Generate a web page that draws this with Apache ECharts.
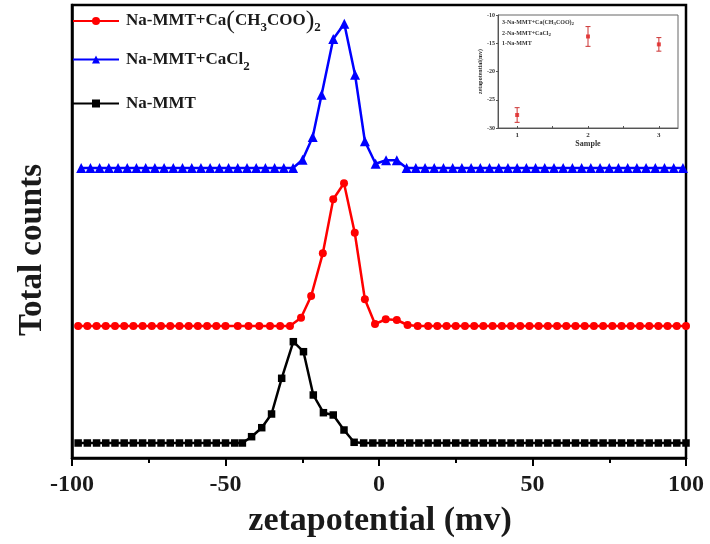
<!DOCTYPE html>
<html>
<head>
<meta charset="utf-8">
<script src="https://cdn.jsdelivr.net/npm/echarts@6/dist/echarts.min.js"></script>
<style>
  html, body { margin: 0; padding: 0; background: #fff; }
  #chart { width: 710px; height: 544px; }
</style>
</head>
<body>
<div id="chart"></div>
<script>
// Zeta potential distributions (x in mV, counts in arbitrary units above each curve's baseline)
const xMMT = [-98,-95,-92,-89,-86,-83,-80,-77,-74,-71,-68,-65,-62,-59,-56,-53,-50,-47,-44.5,
  -41.5,-38.2,-35,-31.7,-27.9,-24.6,-21.4,-18.1,-14.9,-11.4,-8.1,
  -5,-2,1,4,7,10,13,16,19,22,25,28,31,34,37,40,43,46,49,52,55,58,61,64,67,70,73,76,79,82,85,88,91,94,97,100];
const countsMMT = [0,0,0,0,0,0,0,0,0,0,0,0,0,0,0,0,0,0,0,
  6.3,15.3,29,64.7,101.3,91.3,48,30.3,28,13,0.7,
  0,0,0,0,0,0,0,0,0,0,0,0,0,0,0,0,0,0,0,0,0,0,0,0,0,0,0,0,0,0,0,0,0,0,0,0];

const xCaAc = [-98,-95,-92,-89,-86,-83,-80,-77,-74,-71,-68,-65,-62,-59,-56,-53,-50,
  -46,-42.5,-39,-35.5,-32.2,-29,
  -25.4,-22.1,-18.3,-14.9,-11.4,-7.9,-4.6,-1.3,2.2,5.8,9.3,
  12.6,16,19,22,25,28,31,34,37,40,43,46,49,52,55,58,61,64,67,70,73,76,79,82,85,88,91,94,97,100];
const countsCaAc = [0,0,0,0,0,0,0,0,0,0,0,0,0,0,0,0,0,
  0,0,0,0,0,0,
  8.3,30,72.7,126.7,142.7,93.3,26.7,2,6.7,6,1,
  0,0,0,0,0,0,0,0,0,0,0,0,0,0,0,0,0,0,0,0,0,0,0,0,0,0,0,0,0,0];

const xCaCl2 = [-97,-94,-91,-88,-85,-82,-79,-76,-73,-70,-67,-64,-61,-58,-55,-52,-49,-46,-43,-40,-37,-34,-31,-28,
  -24.9,-21.6,-18.7,-14.9,-11.3,-7.8,-4.6,-1.1,2.3,5.8,9,
  12,15,18,21,24,27,30,33,36,39,42,45,48,51,54,57,60,63,66,69,72,75,78,81,84,87,90,93,96,99];
const countsCaCl2 = [0,0,0,0,0,0,0,0,0,0,0,0,0,0,0,0,0,0,0,0,0,0,0,0,
  8.3,31,73.3,129,144.3,93.3,26.7,4.3,7.7,7.7,0,
  0,0,0,0,0,0,0,0,0,0,0,0,0,0,0,0,0,0,0,0,0,0,0,0,0,0,0,0,0,0];

const xTickValues = [-100, -50, 0, 50, 100];

// Inset: mean zeta potential per sample with error
const insetSamples = [1, 2, 3];
const insetZeta = [-27.7, -13.8, -15.2];
const insetErr = [1.3, 1.75, 1.2];
const insetLegendLines = ['3-Na-MMT+Ca(CH{s|3}COO){s|2}', '2-Na-MMT+CaCl{s|2}', '1-Na-MMT'];

// Vertical offsets that stack the three curves
const BASE_MMT = 15, BASE_CAAC = 132, BASE_CACL2 = 290;

const SERIF = '"Liberation Serif", "DejaVu Serif", serif';
const TXT = '#1a1a1a';

const pairs = (xs, ys, base) => xs.map((x, i) => [x, ys[i] + base]);

const legendRich = {
  n: { fontFamily: SERIF, fontWeight: 'bold', fontSize: 17, color: TXT },
  p: { fontFamily: SERIF, fontWeight: 'normal', fontSize: 26, color: TXT },
  s: { fontFamily: SERIF, fontWeight: 'bold', fontSize: 13, color: TXT, padding: [14, 0, 0, 0] }
};
const legendLabels = {
  caAc: '{n|Na-MMT+Ca}{p|(}{n|CH}{s|3}{n|COO}{p|)}{s|2}',
  cacl2: '{n|Na-MMT+CaCl}{s|2}',
  mmt: '{n|Na-MMT}'
};
const makeLegend = (name, top) => ({
  data: [name],
  left: 72,
  top: top,
  padding: 0,
  itemWidth: 46,
  itemHeight: 10,
  itemGap: 0,
  formatter: n => legendLabels[n],
  textStyle: { rich: legendRich, padding: [0, 0, 0, 2] }
});

const chart = echarts.init(document.getElementById('chart'), null, { renderer: 'canvas' });

chart.setOption({
  backgroundColor: '#fff',
  animation: false,
  legend: [makeLegend('caAc', 8), makeLegend('cacl2', 51), makeLegend('mmt', 95)],
  grid: [
    { left: 72, right: 24, top: 5, bottom: 86, show: true, borderColor: '#000', borderWidth: 2.5, backgroundColor: 'transparent' },
    { left: 498, top: 15, width: 180, height: 113, show: true, borderColor: '#666', borderWidth: 1, backgroundColor: '#fff' }
  ],
  xAxis: [
    {
      gridIndex: 0, type: 'value', min: -100, max: 100, interval: 50,
      axisLine: { show: true, onZero: false, lineStyle: { color: '#000', width: 2.5 } },
      axisTick: { show: true, length: 8, lineStyle: { color: '#000', width: 2 }, customValues: xTickValues },
      minorTick: { show: true, splitNumber: 2, length: 5, lineStyle: { color: '#000', width: 2 } },
      axisLabel: { margin: 15, fontFamily: SERIF, fontWeight: 'bold', fontSize: 24, color: TXT, customValues: xTickValues },
      splitLine: { show: false }
    },
    {
      gridIndex: 1, type: 'value', min: 0.73, max: 3.27,
      name: 'Sample', nameLocation: 'middle', nameGap: 12,
      nameTextStyle: { fontFamily: SERIF, fontWeight: 'bold', fontSize: 8, color: '#333' },
      axisLine: { show: true, onZero: false, lineStyle: { color: '#555', width: 1 } },
      axisTick: { show: true, inside: true, length: 2, customValues: [1, 1.5, 2, 2.5, 3], lineStyle: { color: '#555' } },
      axisLabel: { margin: 4, fontFamily: SERIF, fontWeight: 'bold', fontSize: 7, color: '#333', customValues: insetSamples },
      splitLine: { show: false }
    }
  ],
  yAxis: [
    {
      gridIndex: 0, type: 'value', min: 0, max: 453,
      axisLine: { show: true, onZero: false, lineStyle: { color: '#000', width: 2.5 } },
      axisTick: { show: false }, axisLabel: { show: false }, splitLine: { show: false }
    },
    {
      gridIndex: 1, type: 'value', min: -30, max: -10, interval: 5,
      name: 'zetapotential(mv)', nameLocation: 'middle', nameGap: 15,
      nameTextStyle: { fontFamily: SERIF, fontWeight: 'bold', fontSize: 6, color: '#333' },
      axisLine: { show: true, onZero: false, lineStyle: { color: '#555', width: 1 } },
      axisTick: { show: true, length: 2, lineStyle: { color: '#555' } },
      axisLabel: { margin: 3, fontFamily: SERIF, fontWeight: 'bold', fontSize: 6, color: '#333' },
      splitLine: { show: false }
    }
  ],
  series: [
    {
      name: 'caAc', type: 'line', xAxisIndex: 0, yAxisIndex: 0,
      data: pairs(xCaAc, countsCaAc, BASE_CAAC),
      symbol: 'circle', symbolSize: 8,
      itemStyle: { color: '#ff0000' }, lineStyle: { color: '#ff0000', width: 2.5 }
    },
    {
      name: 'cacl2', type: 'line', xAxisIndex: 0, yAxisIndex: 0,
      data: pairs(xCaCl2, countsCaCl2, BASE_CACL2),
      symbol: 'triangle', symbolSize: 10,
      itemStyle: { color: '#0000ff' }, lineStyle: { color: '#0000ff', width: 2.5 }
    },
    {
      name: 'mmt', type: 'line', xAxisIndex: 0, yAxisIndex: 0,
      data: pairs(xMMT, countsMMT, BASE_MMT),
      symbol: 'rect', symbolSize: 7.5,
      itemStyle: { color: '#000' }, lineStyle: { color: '#000', width: 2.5 }
    },
    {
      name: 'insetErr', type: 'custom', xAxisIndex: 1, yAxisIndex: 1,
      data: insetSamples.map((s, i) => [s, insetZeta[i], insetErr[i]]),
      renderItem: (params, api) => {
        const x = api.value(0), y = api.value(1), e = api.value(2);
        const top = api.coord([x, y + e]);
        const bot = api.coord([x, y - e]);
        const cap = 2.5;
        const st = { stroke: '#cc3333', lineWidth: 1 };
        return {
          type: 'group',
          children: [
            { type: 'line', shape: { x1: top[0], y1: top[1], x2: bot[0], y2: bot[1] }, style: st },
            { type: 'line', shape: { x1: top[0] - cap, y1: top[1], x2: top[0] + cap, y2: top[1] }, style: st },
            { type: 'line', shape: { x1: bot[0] - cap, y1: bot[1], x2: bot[0] + cap, y2: bot[1] }, style: st }
          ]
        };
      },
      z: 5
    },
    {
      name: 'insetMean', type: 'scatter', xAxisIndex: 1, yAxisIndex: 1,
      data: insetSamples.map((s, i) => [s, insetZeta[i]]),
      symbol: 'rect', symbolSize: 4,
      itemStyle: { color: '#e02020' }, z: 6
    }
  ],
  graphic: [
    {
      type: 'text', x: 32, y: 250, rotation: Math.PI / 2,
      style: { text: 'Total counts', fontFamily: SERIF, fontWeight: 'bold', fontSize: 33, fill: TXT, align: 'center', verticalAlign: 'middle' }
    },
    {
      type: 'text', x: 380, y: 521,
      style: { text: 'zetapotential (mv)', fontFamily: SERIF, fontWeight: 'bold', fontSize: 34, fill: TXT, align: 'center', verticalAlign: 'middle' }
    }
  ].concat(insetLegendLines.map((t, i) => ({
    type: 'text', x: 502, y: [22, 33, 43][i], z: 10,
    style: {
      text: t, fontFamily: SERIF, fontWeight: 'bold', fontSize: 6, fill: '#333', verticalAlign: 'middle',
      rich: { s: { fontFamily: SERIF, fontWeight: 'bold', fontSize: 5, fill: '#333', padding: [4, 0, 0, 0] } }
    }
  })))
});
</script>
</body>
</html>
